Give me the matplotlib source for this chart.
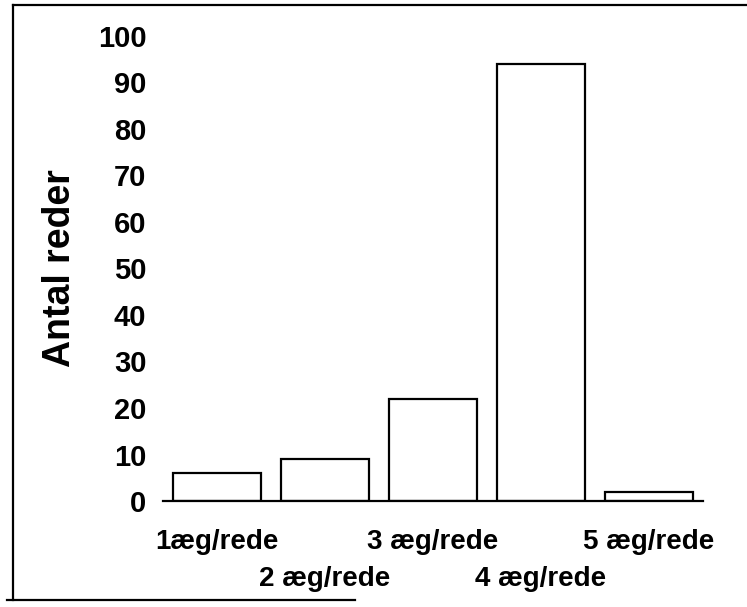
import numpy as np
import matplotlib
matplotlib.use("Agg")
import matplotlib.pyplot as plt
from matplotlib.lines import Line2D

plt.rcParams['font.family'] = ['Liberation Sans', 'DejaVu Sans']

categories = ['1æg/rede', '2 æg/rede', '3 æg/rede', '4 æg/rede', '5 æg/rede']
antal_reder = [6, 9, 22, 94, 2]
yticks = list(range(0, 101, 10))

fig = plt.figure(figsize=(7.47, 6.07), dpi=100)
ax = fig.add_axes([163/747, (607-501)/607, (703-163)/747, (501-36)/607])

x = np.arange(len(categories))
ax.bar(x, antal_reder, width=0.82, color='white', edgecolor='black', linewidth=1.6)

ax.set_xlim(-0.5, 4.5)
ax.set_ylim(0, 100)
ax.set_yticks(yticks)
ax.set_yticklabels([str(t) for t in yticks], fontsize=21, fontweight='bold')

# labels alternate between two rows: even ones as major ticks, odd ones as minor
ax.set_xticks(x[::2])
ax.set_xticklabels(categories[::2], fontsize=20, fontweight='bold')
ax.set_xticks(x[1::2], minor=True)
ax.set_xticklabels(categories[1::2], minor=True, fontsize=20, fontweight='bold')

for s in ['top', 'right', 'left']:
    ax.spines[s].set_visible(False)
ax.spines['bottom'].set_linewidth(1.6)
ax.tick_params(axis='both', which='both', length=0)
ax.tick_params(axis='y', pad=12)
ax.tick_params(axis='x', which='major', pad=20)
ax.tick_params(axis='x', which='minor', pad=47)

ax.set_ylabel('Antal reder', fontsize=27, fontweight='bold', labelpad=14)

# outer frame around the figure
W, H = 747, 607
def fline(x0, y0, x1, y1):
    fig.add_artist(Line2D([x0/W, x1/W], [1-y0/H, 1-y1/H], color='black', lw=1.6,
                          transform=fig.transFigure))
fline(13, 5, 13, 600)
fline(13, 5, 747, 5)
fline(7, 600, 355, 600)

fig.savefig('out.png', dpi=100)
